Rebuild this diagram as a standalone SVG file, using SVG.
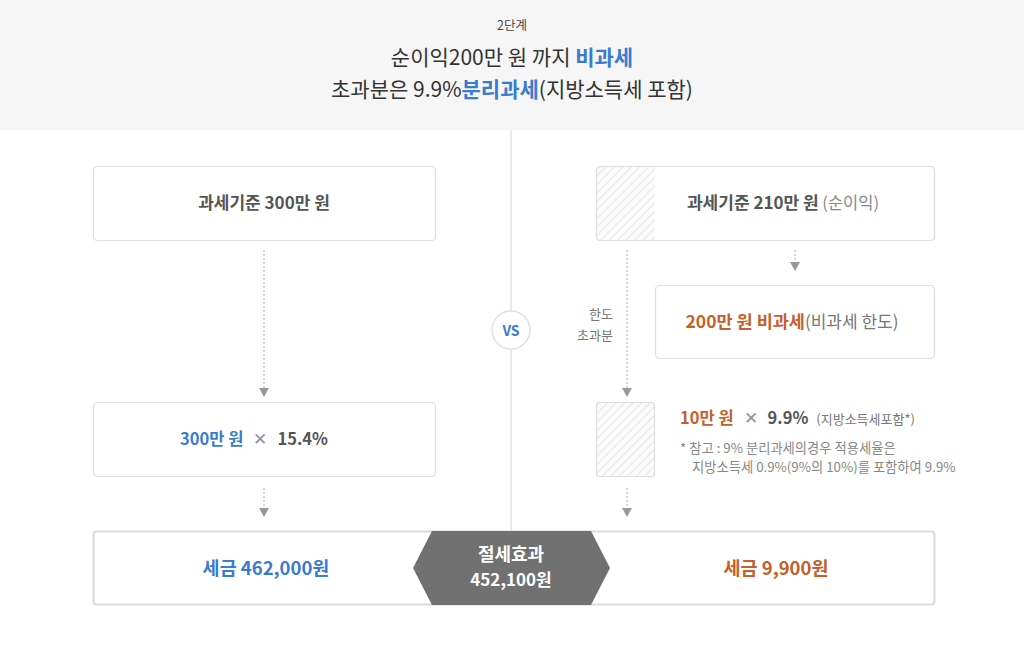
<svg xmlns="http://www.w3.org/2000/svg" width="1024" height="655" viewBox="0 0 1024 655">
<defs>
<pattern id="hatch" patternUnits="userSpaceOnUse" width="6" height="6" patternTransform="rotate(45)">
<rect width="6" height="6" fill="#fbfbfb"/>
<line x1="0" y1="0" x2="0" y2="6" stroke="#d6d6d6" stroke-width="1.2"/>
</pattern>
<marker id="arr" markerWidth="9" markerHeight="10" refX="0" refY="5" orient="auto" markerUnits="userSpaceOnUse" viewBox="0 0 9 10">
<path d="M0,0 L9,5 L0,10 Z" fill="#999"/>
</marker>
</defs>
<style>
text{font-family:"Noto Sans CJK KR","Noto Sans",sans-serif;}
.box{fill:#fff;stroke:#dedede;stroke-width:1.2;}
.dot{stroke:#aaa;stroke-width:1;stroke-dasharray:2 2;fill:none;}
.b{font-weight:bold;}
.blue{fill:#3a7bd0;}
.org{fill:#c4602a;}
.dk{fill:#444;}
.gr{fill:#777;}
</style>
<rect width="1024" height="655" fill="#fff"/>
<rect width="1024" height="130" fill="#f6f6f6"/>
<g id="title">
<text x="512" y="30" text-anchor="middle" font-size="12.5" class="dk">2단계</text>
<text x="512" y="65" text-anchor="middle" font-size="21" fill="#333">순이익200만 원 까지 <tspan class="blue" font-weight="bold">비과세</tspan></text>
<text x="512" y="97" text-anchor="middle" font-size="21" fill="#333">초과분은 9.9%<tspan class="blue" font-weight="bold">분리과세</tspan>(지방소득세 포함)</text>
</g>
<line x1="511" y1="130" x2="511" y2="531" stroke="#e2e2e2" stroke-width="1.5"/>
<g id="connectors">
<line class="dot" x1="264" y1="250" x2="264" y2="388" marker-end="url(#arr)"/>
<line class="dot" x1="264" y1="488" x2="264" y2="508" marker-end="url(#arr)"/>
<line class="dot" x1="795" y1="250" x2="795" y2="262" marker-end="url(#arr)"/>
<line class="dot" x1="627" y1="250" x2="627" y2="388" marker-end="url(#arr)"/>
<line class="dot" x1="627" y1="488" x2="627" y2="508" marker-end="url(#arr)"/>
</g>
<g id="left1">
<rect class="box" x="93.5" y="166.5" width="342" height="74" rx="4"/>
<text x="264" y="209" text-anchor="middle" font-size="17" class="b" fill="#555">과세기준 300만 원</text>
</g>
<g id="left2">
<rect class="box" x="93.5" y="402.5" width="342" height="74" rx="4"/>
<text x="254" y="445" text-anchor="middle" font-size="16.5" class="b"><tspan class="blue">300만 원</tspan><tspan fill="#8a94a6" font-weight="normal" dx="10">✕</tspan><tspan fill="#555" dx="10">15.4%</tspan></text>
</g>
<g id="right1">
<rect class="box" x="596.5" y="166.5" width="338" height="74" rx="4"/>
<path d="M600.5,167 H655 V240 H600.5 A4,4 0 0 1 596.5,236 V171 A4,4 0 0 1 600.5,167 Z" fill="url(#hatch)"/>
<rect x="596.5" y="166.5" width="338" height="74" rx="4" fill="none" stroke="#dedede" stroke-width="1.2"/>
<text x="783" y="209" text-anchor="middle" font-size="17" fill="#555"><tspan class="b">과세기준 210만 원</tspan><tspan fill="#888" font-size="16.5"> (순이익)</tspan></text>
</g>
<g id="right2">
<rect class="box" x="655.5" y="285.5" width="279" height="73" rx="4"/>
<text x="792" y="328" text-anchor="middle" font-size="17.5"><tspan class="org b">200만 원 비과세</tspan><tspan fill="#777" font-size="17">(비과세 한도)</tspan></text>
</g>
<g id="label-excess">
<text x="613" y="319" text-anchor="end" font-size="13" class="gr">한도</text>
<text x="613" y="340" text-anchor="end" font-size="13" class="gr">초과분</text>
</g>
<g id="right3">
<rect x="596.5" y="402.5" width="58" height="74" rx="3" fill="url(#hatch)" stroke="#dedede" stroke-width="1.2"/>
<text x="680" y="424" font-size="16.5"><tspan class="org b">10만 원</tspan><tspan fill="#8a94a6" dx="10">✕</tspan><tspan fill="#555" class="b" dx="10">9.9%</tspan><tspan fill="#777" font-size="13" dx="8">(지방소득세포함*)</tspan></text>
<text x="680" y="453" font-size="13.3" fill="#888">* 참고 : 9% 분리과세의경우 적용세율은</text>
<text x="692" y="472" font-size="13.3" fill="#888">지방소득세 0.9%(9%의 10%)를 포함하여 9.9%</text>
</g>
<g id="vs">
<circle cx="511" cy="330" r="19" fill="#fff" stroke="#e0e0e0" stroke-width="1.5"/>
<text x="511" y="335.5" text-anchor="middle" font-size="14" class="b blue">VS</text>
</g>
<g id="result">
<rect x="93.5" y="531.5" width="841" height="73" rx="3" fill="#fff" stroke="#dcdcdc" stroke-width="2"/>
<text x="266" y="575" text-anchor="middle" font-size="18.5" class="b blue">세금 462,000원</text>
<text x="776" y="575" text-anchor="middle" font-size="18.5" class="b org">세금 9,900원</text>
</g>
<g id="saving">
<polygon points="413,568 432,531 591,531 610,568 591,605 432,605" fill="#717171"/>
<text x="511" y="561" text-anchor="middle" font-size="18" fill="#fff" class="b">절세효과</text>
<text x="511" y="586" text-anchor="middle" font-size="17" fill="#fff" class="b">452,100원</text>
</g>
</svg>
